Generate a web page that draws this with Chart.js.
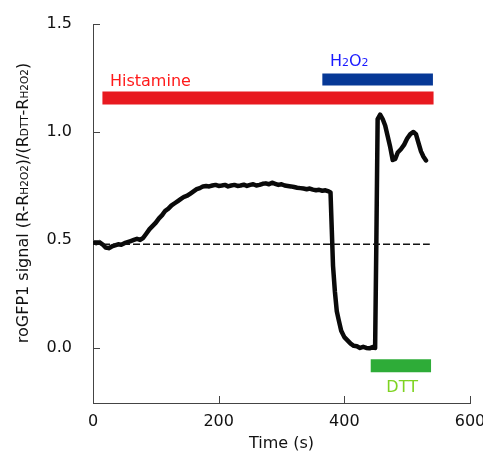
<!DOCTYPE html>
<html><head><meta charset="utf-8">
<script src="https://cdn.jsdelivr.net/npm/chart.js@4"></script>
<style>html,body{margin:0;padding:0;background:#fff}#wrap{width:483px;height:459px;position:relative}</style>
</head><body><div id="wrap"><canvas id="c"></canvas></div>
<script>
// ---- data ----
const timeS = [0,5,10,15,20,25,30,35,40,45,50,55,60,65,70,75,80,85,90,95,100,105,110,115,120,125,130,135,140,145,150,155,160,165,170,175,180,185,190,195,200,205,210,215,220,225,230,235,240,245,250,255,260,265,270,275,280,285,290,295,300,305,310,315,320,325,330,335,340,345,350,355,360,365,370,375,378,380,382,385,388,391,395,400,405,410,415,420,425,430,435,440,445,449,451,453,457,461,465,469,473,477,481,485,490,495,500,505,510,514,518,522,526,530];
const signal = [0.49,0.485,0.49,0.48,0.465,0.462,0.47,0.475,0.48,0.478,0.485,0.49,0.495,0.50,0.505,0.50,0.51,0.53,0.55,0.565,0.58,0.60,0.615,0.635,0.645,0.66,0.67,0.68,0.69,0.70,0.705,0.715,0.725,0.735,0.74,0.748,0.75,0.748,0.752,0.755,0.75,0.752,0.755,0.748,0.752,0.755,0.75,0.752,0.756,0.75,0.755,0.758,0.752,0.755,0.76,0.762,0.758,0.765,0.76,0.755,0.758,0.752,0.75,0.748,0.745,0.742,0.74,0.738,0.735,0.738,0.733,0.73,0.732,0.728,0.73,0.725,0.72,0.55,0.38,0.26,0.17,0.13,0.08,0.05,0.035,0.02,0.01,0.008,0.0,0.005,0.0,-0.002,0.004,0.0,0.5,1.06,1.08,1.06,1.03,0.98,0.93,0.87,0.875,0.905,0.92,0.94,0.97,0.99,1.0,0.99,0.95,0.91,0.885,0.868];
const baselineT = [0, 536];
const baselineV = 0.48;
const histamineT = [15, 542];
const histamineV = 1.157;
const h2o2T = [365, 541];
const h2o2V = 1.243;
const dttT = [442, 538];
const dttV = -0.083;
const xTicks = [0, 200, 400, 600];
const yTicks = [0.0, 0.5, 1.0, 1.5];

const FONT = "'DejaVu Sans', Verdana, sans-serif";

function pts(ts, v) { return ts.map(t => ({x: t, y: v})); }

function drawRich(ctx, segs, x, y, align) {
  // segs: [text, size, dy]
  let total = 0;
  segs.forEach(s => { ctx.font = s[1] + 'px ' + FONT; total += ctx.measureText(s[0]).width; });
  let cx = align === 'center' ? x - total / 2 : x;
  segs.forEach(s => {
    ctx.font = s[1] + 'px ' + FONT;
    ctx.fillText(s[0], cx, y + (s[2] || 0));
    cx += ctx.measureText(s[0]).width;
  });
}

const decor = {
  id: 'decor',
  afterDraw(chart) {
    const ctx = chart.ctx, xs = chart.scales.x, ys = chart.scales.y, a = chart.chartArea;
    ctx.save();
    // inward ticks
    ctx.strokeStyle = '#444'; ctx.lineWidth = 1;
    xTicks.forEach(t => { const px = Math.round(xs.getPixelForValue(t)) + 0.5; ctx.beginPath(); ctx.moveTo(px, a.bottom); ctx.lineTo(px, a.bottom - 7); ctx.stroke(); });
    yTicks.forEach(v => { const py = Math.round(ys.getPixelForValue(v)) + 0.5; ctx.beginPath(); ctx.moveTo(a.left, py); ctx.lineTo(a.left + 7, py); ctx.stroke(); });
    ctx.textBaseline = 'alphabetic';
    // treatment labels
    ctx.fillStyle = '#ff1a1a';
    drawRich(ctx, [['Histamine', 16]], xs.getPixelForValue(27), ys.getPixelForValue(1.215), 'left');
    ctx.fillStyle = '#1a1aff';
    drawRich(ctx, [['H', 16], ['2', 11], ['O', 16], ['2', 11]], xs.getPixelForValue(377), ys.getPixelForValue(1.307), 'left');
    ctx.fillStyle = '#7ed321';
    drawRich(ctx, [['DTT', 16]], xs.getPixelForValue(492), ys.getPixelForValue(-0.206), 'center');
    // axis titles
    ctx.fillStyle = '#111';
    drawRich(ctx, [['Time (s)', 16]], (a.left + a.right) / 2, 448, 'center');
    ctx.translate(28, 203);
    ctx.rotate(-Math.PI / 2);
    drawRich(ctx, [['roGFP1 signal (R-R', 16], ['H2O2', 10.5], [')/(R', 16], ['DTT', 10.5], ['-R', 16], ['H2O2', 10.5], [')', 16]], 0, 0, 'center');
    ctx.restore();
  }
};

new Chart(document.getElementById('c'), {
  type: 'line',
  data: {
    datasets: [
      { data: pts(histamineT, histamineV), borderColor: '#e8191f', borderWidth: 13, borderCapStyle: 'butt', pointRadius: 0 },
      { data: pts(h2o2T, h2o2V), borderColor: '#063896', borderWidth: 12, borderCapStyle: 'butt', pointRadius: 0 },
      { data: pts(dttT, dttV), borderColor: '#2eac38', borderWidth: 13, borderCapStyle: 'butt', pointRadius: 0 },
      { data: pts(baselineT, baselineV), borderColor: '#111', borderWidth: 1.5, borderDash: [7, 3], pointRadius: 0 },
      { data: timeS.map((t, i) => ({x: t, y: signal[i]})), borderColor: '#0a0a0a', borderWidth: 4.5, borderJoinStyle: 'round', borderCapStyle: 'round', pointRadius: 0, tension: 0 }
    ]
  },
  options: {
    responsive: true, maintainAspectRatio: false, animation: false,
    layout: { padding: { left: 0, right: 13, top: 24, bottom: 0 } },
    plugins: { legend: { display: false }, tooltip: { enabled: false } },
    scales: {
      x: {
        type: 'linear', min: 0, max: 600,
        afterBuildTicks: s => { s.ticks = xTicks.map(v => ({value: v})); },
        afterFit: s => { s.height = 56; s.paddingLeft = 0; s.paddingRight = 0; },
        grid: { display: false, drawTicks: false },
        border: { display: true, color: '#444', width: 1 },
        ticks: { padding: 9, color: '#111', font: { family: FONT, size: 16 }, maxRotation: 0 }
      },
      y: {
        type: 'linear', min: -0.255, max: 1.5,
        afterBuildTicks: s => { s.ticks = yTicks.map(v => ({value: v})); },
        afterFit: s => { s.width = 93; s.paddingTop = 0; s.paddingBottom = 0; },
        grid: { display: false, drawTicks: false },
        border: { display: true, color: '#444', width: 1 },
        ticks: { padding: 21, color: '#111', font: { family: FONT, size: 16 }, callback: v => v.toFixed(1) }
      }
    }
  },
  plugins: [decor]
});
</script>
</body></html>
